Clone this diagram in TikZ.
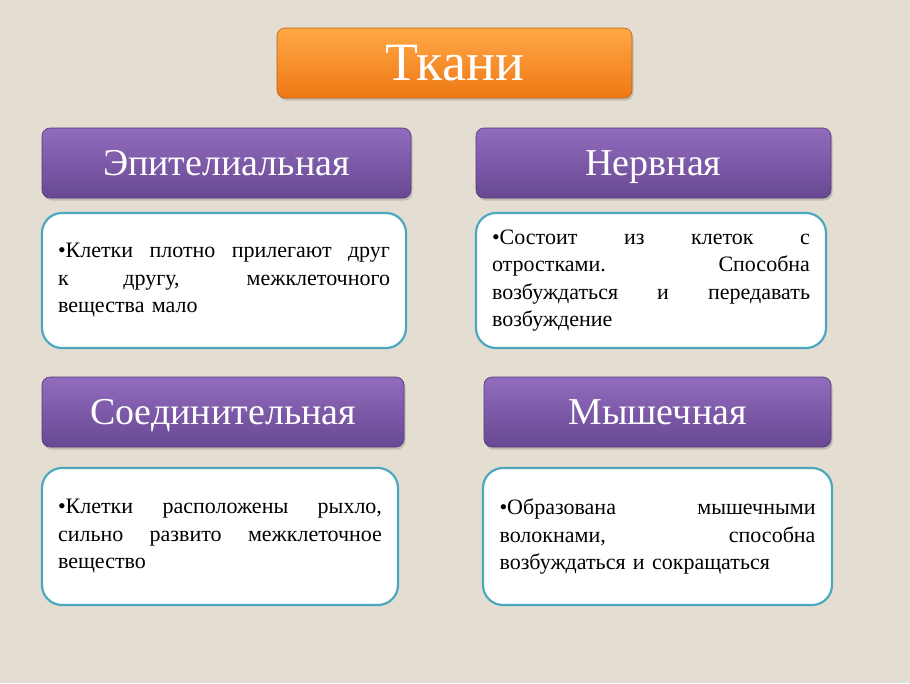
\documentclass[tikz,border=0pt]{standalone}
\usepackage{fontspec}
\setmainfont{Liberation Serif}
\usetikzlibrary{shadows}
\definecolor{bgc}{RGB}{228,221,209}
\definecolor{orTop}{RGB}{255,168,70}
\definecolor{orBot}{RGB}{238,120,20}
\definecolor{puTop}{RGB}{146,108,190}
\definecolor{puBot}{RGB}{104,72,146}
\definecolor{teal}{RGB}{75,168,190}
\newcommand{\jl}[1]{\hbox to\hsize{\spaceskip=0.3em plus 10em\xspaceskip=0.3em plus 10em\relax #1}\par}
\tikzset{
  titlebox/.style={rectangle, rounded corners=8pt, minimum height=70pt,
    top color=orTop, bottom color=orBot, draw=orBot!80!black, line width=0.6pt,
    text=white, font=\fontsize{54}{60}\selectfont, text height=35.5pt, text depth=0pt,
    drop shadow={shadow xshift=1.5pt, shadow yshift=-2.5pt, opacity=0.35}},
  headbox/.style={rectangle, rounded corners=8pt, minimum height=70pt,
    top color=puTop, bottom color=puBot, draw=puBot!80!black, line width=0.6pt,
    text=white, font=\fontsize{38}{44}\selectfont, text height=25pt, text depth=0pt,
    drop shadow={shadow xshift=1.5pt, shadow yshift=-2.5pt, opacity=0.35}},
  textbox/.style={rectangle, rounded corners=20pt, minimum height=135pt,
    fill=white, draw=teal, line width=2.2pt, text=black, align=left,
    font=\fontsize{22}{27.5}\selectfont, inner xsep=0pt}
}
\begin{document}
\begin{tikzpicture}[x=1pt,y=-1pt]
\fill[bgc] (0,0) rectangle (910,683);
\useasboundingbox (0,0) rectangle (910,683);

\node[titlebox, minimum width=355pt] (tk) at (454.5,63) {Ткани};

\node[headbox, minimum width=369pt] (ep) at (226.5,163) {Эпителиальная};
\node[headbox, minimum width=355pt] (ne) at (653.5,163) {Нервная};
\node[headbox, minimum width=362pt] (so) at (223,412) {Соединительная};
\node[headbox, minimum width=347pt] (my) at (657.5,412) {Мышечная};

\node[textbox, minimum width=364pt, text width=332pt] (t1) at (224,280.5)
  {\jl{•Клетки плотно прилегают друг}\jl{к другу, межклеточного}вещества мало};
\node[textbox, minimum width=350pt, text width=318pt] (t2) at (651,280.5)
  {\jl{•Состоит из клеток с}\jl{отростками. Способна}\jl{возбуждаться и передавать}возбуждение};
\node[textbox, minimum width=356pt, minimum height=137pt, text width=324pt] (t3) at (220,536.5)
  {\jl{•Клетки расположены рыхло,}\jl{сильно развито межклеточное}вещество};
\node[textbox, minimum width=349pt, minimum height=137pt, text width=316pt] (t4) at (657.5,536.5)
  {\jl{•Образована мышечными}\jl{волокнами, способна}возбуждаться и сокращаться};
\end{tikzpicture}
\end{document}
